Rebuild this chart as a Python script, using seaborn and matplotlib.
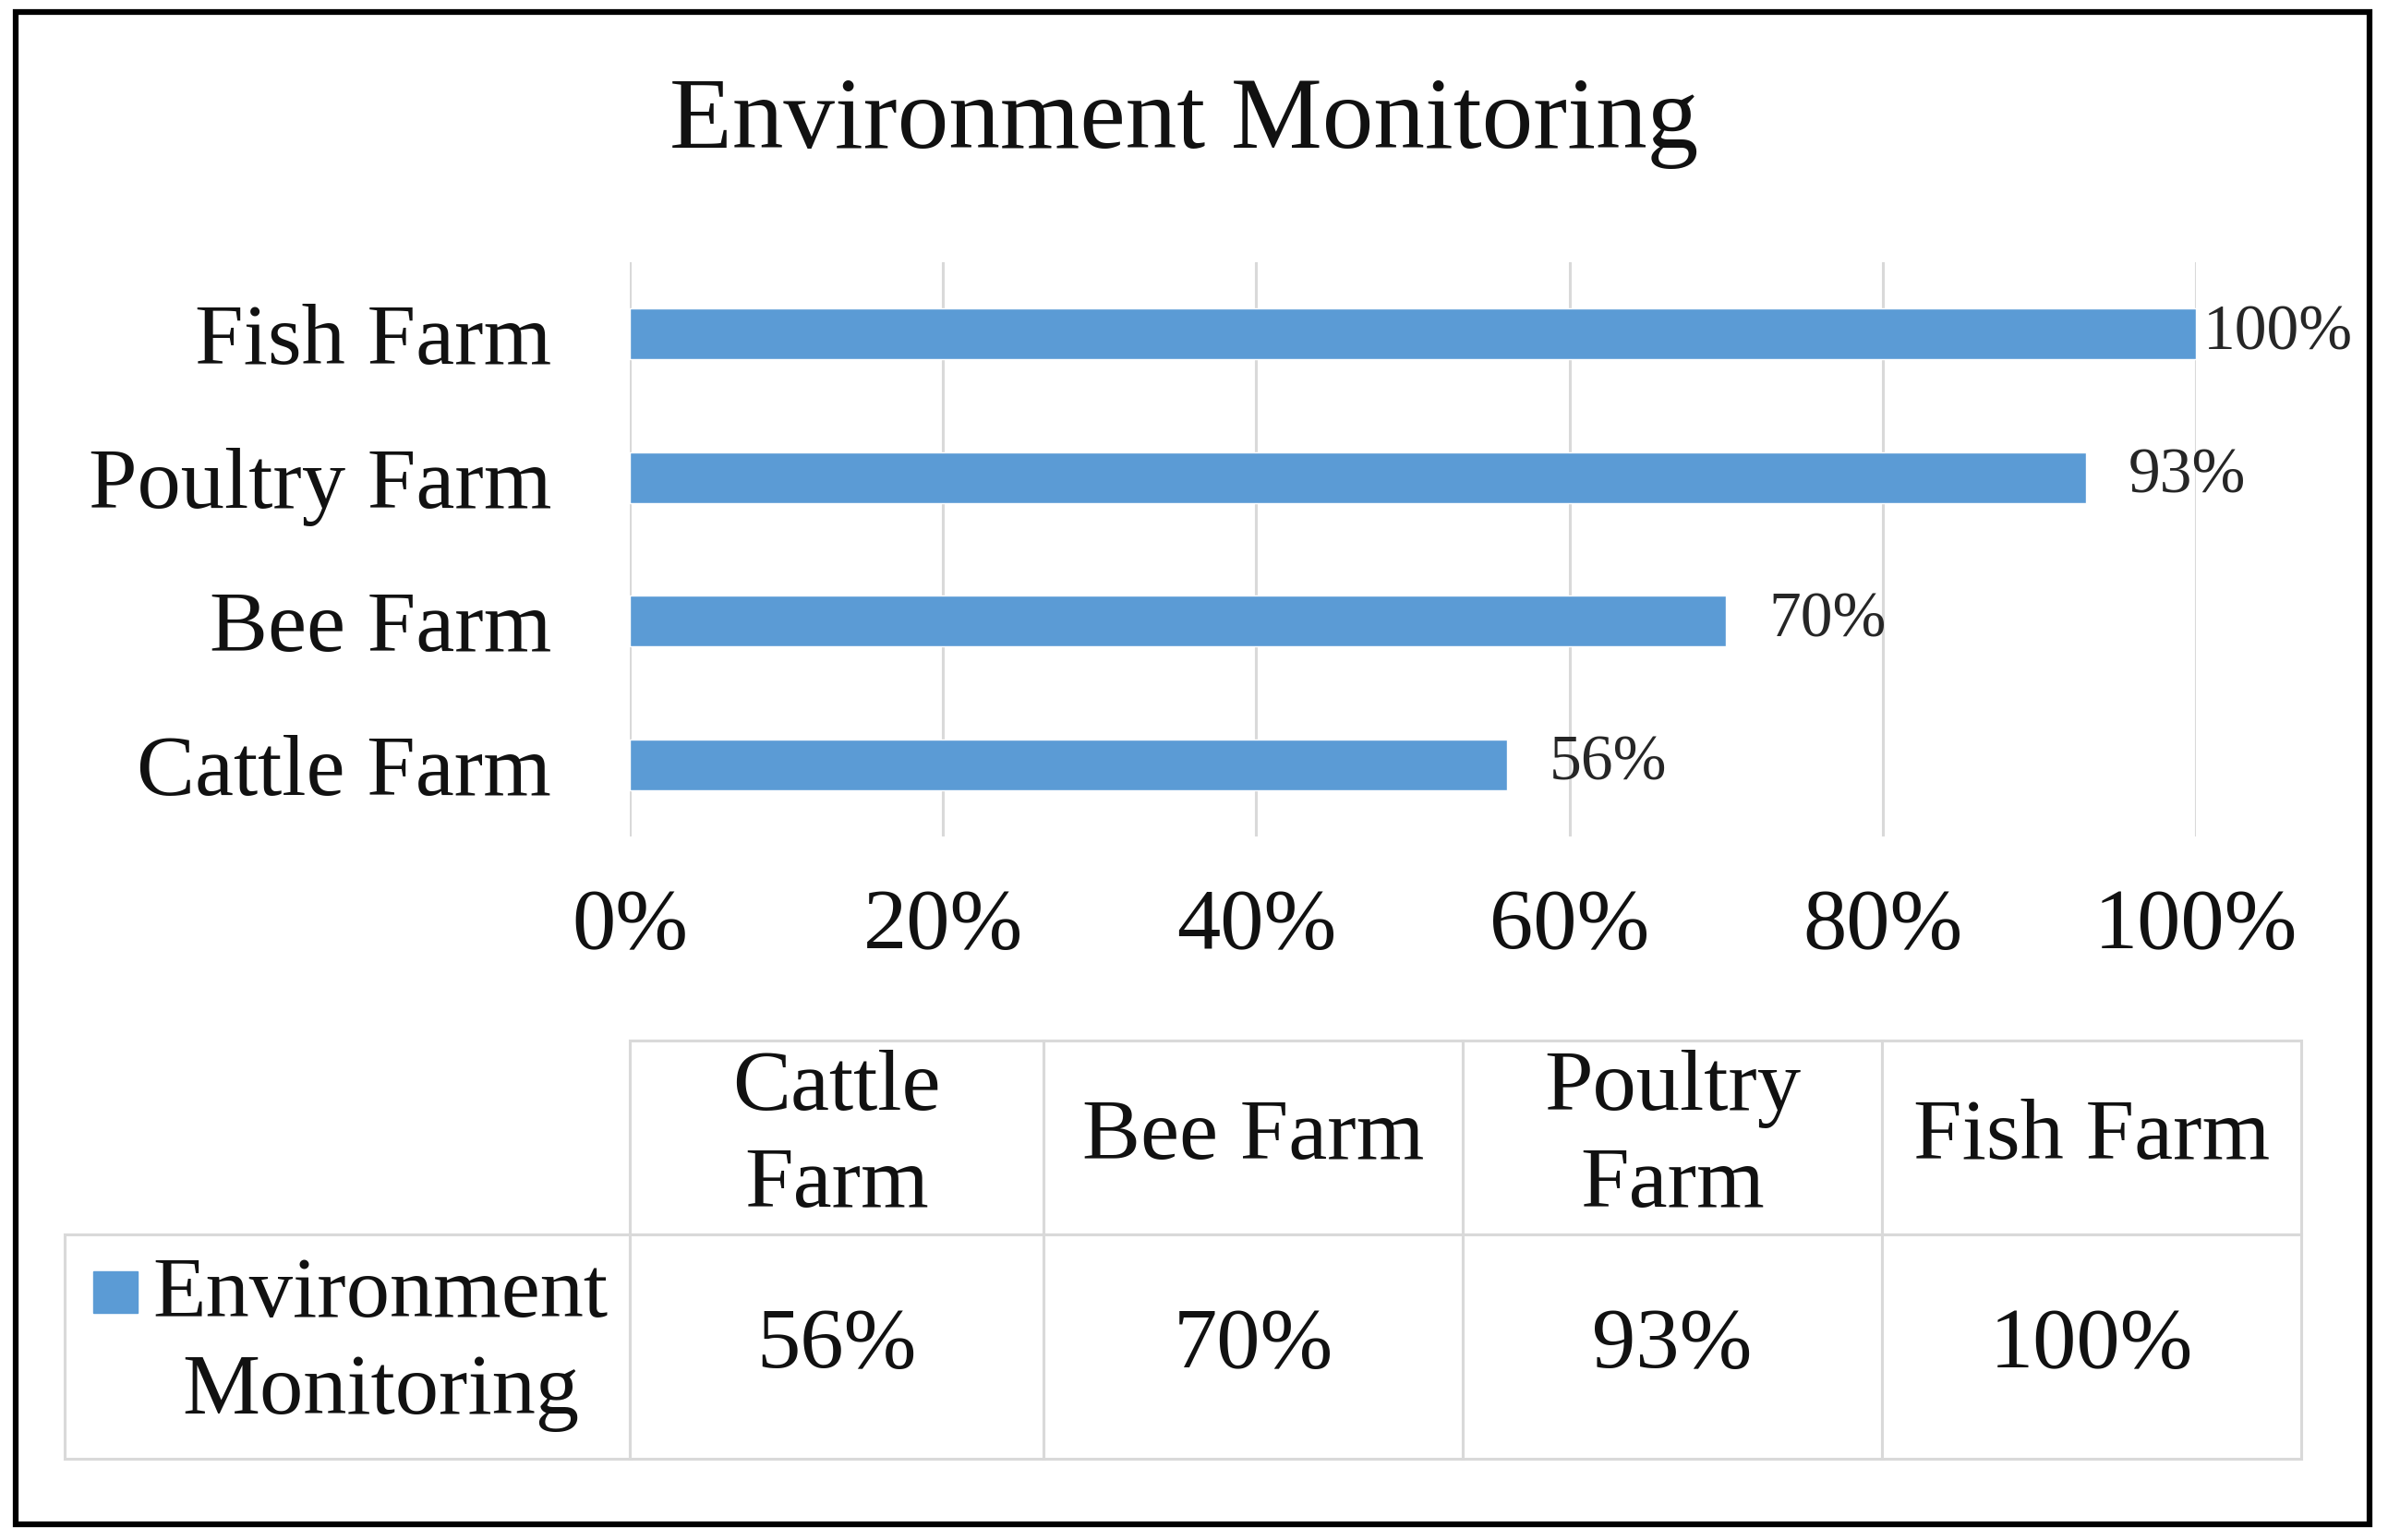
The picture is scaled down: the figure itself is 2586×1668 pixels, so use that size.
import matplotlib
matplotlib.use("Agg")
import matplotlib.pyplot as plt
from matplotlib.patches import Rectangle
from matplotlib.table import Table
from matplotlib.ticker import PercentFormatter
import seaborn as sns
import pandas as pd

# chart data
farms = ["Cattle Farm", "Bee Farm", "Poultry Farm", "Fish Farm"]
values = [56, 70, 93, 100]
table_headers = ["Cattle\nFarm", "Bee Farm", "Poultry\nFarm", "Fish Farm"]
series_name = "Environment Monitoring"
x_ticks = [0, 0.2, 0.4, 0.6, 0.8, 1.0]

BLUE = "#5B9BD5"
GRID = "#D9D9D9"
W, H = 2586, 1668

sns.set_theme(style="white")
plt.rcParams["font.family"] = ["Liberation Serif", "DejaVu Serif"]

df = pd.DataFrame({"farm": farms, "share": [v / 100 for v in values]})

fig = plt.figure(figsize=(W / 100, H / 100), dpi=100)
fig.patch.set_facecolor("white")

# bar chart area
ax = fig.add_axes([682 / W, 1 - 906 / H, (2378 - 682) / W, (906 - 284) / H])
sns.barplot(data=df, x="share", y="farm", order=farms[::-1], color=BLUE,
            saturation=1, width=0.355, ax=ax, zorder=3)
ax.set_xlim(0, 1.0)
ax.set_xticks(x_ticks)
ax.xaxis.set_major_formatter(PercentFormatter(1.0, decimals=0))
ax.set_xlabel("")
ax.set_ylabel("")
ax.xaxis.grid(True, color=GRID, lw=2.2, zorder=0)
ax.yaxis.grid(False)
for s in ax.spines.values():
    s.set_visible(False)
ax.tick_params(axis="x", length=0, pad=40, labelsize=68, colors="#111111")
ax.tick_params(axis="y", length=0, pad=61, labelsize=68, colors="#111111")

# value labels next to the bars
for patch, lab in zip(ax.patches, df.set_index("farm").loc[farms[::-1], "share"]):
    off = 6 if lab >= 1.0 else 33
    ax.annotate(f"{lab * 100:.0f}%", (patch.get_width(), patch.get_y() + patch.get_height() / 2),
                xytext=(off, 0), textcoords="offset points", ha="left", va="center",
                fontsize=50, color="#262626")

# title
fig.text(1282 / W, 1 - 160 / H, series_name, ha="center", va="baseline",
         fontsize=80, color="#111111")

# data table below the chart
tax = fig.add_axes([70 / W, 1 - 1580 / H, (2492 - 70) / W, (1580 - 1127) / H])
tax.axis("off")
tbl = Table(tax, bbox=[0, 0, 1, 1])
col_w = [612, 448, 454, 454, 454]
row_h = [210, 243]
for j, head in enumerate(table_headers):
    c = tbl.add_cell(0, j + 1, width=col_w[j + 1], height=row_h[0], text=head,
                     loc="center", edgecolor=GRID, facecolor="white")
    c.set_linewidth(2.2)
c = tbl.add_cell(1, 0, width=col_w[0], height=row_h[1], text="",
                 edgecolor=GRID, facecolor="white")
c.set_linewidth(2.2)
for j, v in enumerate(values):
    c = tbl.add_cell(1, j + 1, width=col_w[j + 1], height=row_h[1], text=f"{v}%",
                     loc="center", edgecolor=GRID, facecolor="white")
    c.set_linewidth(2.2)
tbl.auto_set_font_size(False)
for cell in tbl.get_celld().values():
    cell.get_text().set_fontsize(68)
    cell.get_text().set_color("#111111")
    cell.get_text().set_linespacing(1.3)
tax.add_table(tbl)

# legend key and series name in the row label cell
fig.text(412 / W, 1 - 1456 / H, "Environment\nMonitoring", ha="center", va="center",
         multialignment="center", fontsize=68, color="#111111", linespacing=1.3)
fig.patches.append(Rectangle((101 / W, 1 - 1422 / H), 48 / W, 45 / H,
                             transform=fig.transFigure, color=BLUE))

# outer frame
fig.patches.append(Rectangle((17 / W, 1 - 1651 / H), (2566 - 17) / W, (1651 - 13) / H,
                             transform=fig.transFigure, fill=False, edgecolor="black", lw=4.5))

fig.savefig("out.png", dpi=100, facecolor="white")
